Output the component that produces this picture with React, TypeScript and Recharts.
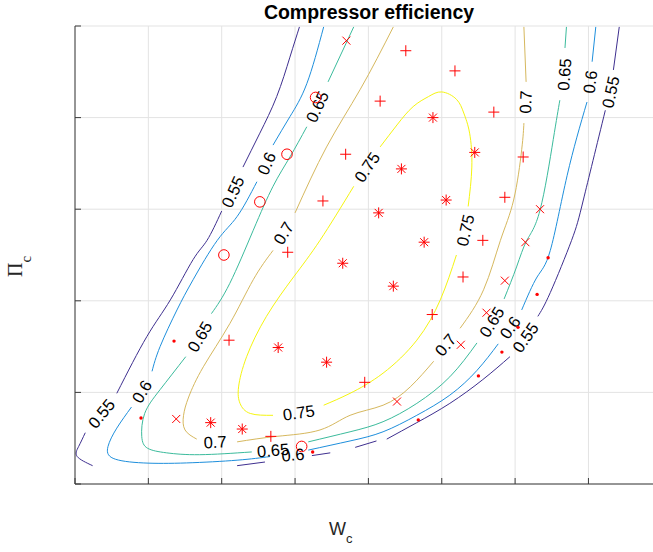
import { CartesianGrid, ComposedChart, Line, Scatter, XAxis, YAxis } from "recharts";

type Pt = [number, number];

// plot frame
const WIDTH = 653;
const HEIGHT = 552;
const MARGIN = { top: 26, right: 0, bottom: 68, left: 75 };

const X_MAX = 7.88;
const Y_MAX = 5;
const X_TICKS = [0, 1, 2, 3, 4, 5, 6, 7];
const Y_TICKS = [0, 1, 2, 3, 4, 5];

const AXIS_COLOR = "#3a3a3a";
const GRID_COLOR = "#e3e3e3";
const MARK_COLOR = "#ff0000";
const SANS = "'Liberation Sans', Arial, Helvetica, sans-serif";
const SERIF = "'Liberation Serif', 'Times New Roman', serif";

const LEVELS = [0.55, 0.6, 0.65, 0.7, 0.75];
const LEVEL_COLORS = ["#3e2f8f", "#1e8fdc", "#3bbb9c", "#d6b85e", "#f5f510"];

// efficiency iso-lines, broken where the inline labels sit
const eff055: Pt[][] = [
  [[3.06, 4.99], [2.93, 4.66], [2.75, 4.23], [2.52, 3.83], [2.29, 3.46]],
  [[2.0, 2.98], [1.8, 2.66], [1.61, 2.45], [1.3, 2.01], [0.98, 1.61], [0.57, 0.99]],
  [[0.14, 0.56], [0.05, 0.41], [0.03, 0.3], [0.24, 0.2]],
  [[2.21, 0.2], [2.59, 0.24]],
  [[3.23, 0.31], [3.48, 0.34]],
  [[3.82, 0.4], [4.11, 0.47]],
  [[4.25, 0.49], [4.66, 0.67], [5.11, 0.88], [5.56, 1.14], [5.93, 1.39]],
  [[6.31, 1.83], [6.48, 2.09], [6.77, 2.66], [6.93, 3.1], [7.23, 4.08]],
  [[7.34, 4.52], [7.42, 4.99]],
];

const eff060: Pt[][] = [
  [[3.39, 4.99], [3.16, 4.37], [2.93, 4.01], [2.7, 3.7]],
  [[2.48, 3.3], [2.21, 2.92], [1.94, 2.66], [1.61, 2.23], [1.39, 1.9], [1.16, 1.5], [1.05, 1.23]],
  [[0.77, 0.84], [0.57, 0.61], [0.45, 0.41], [0.52, 0.28], [0.93, 0.23], [1.52, 0.23], [2.21, 0.26], [2.66, 0.3]],
  [[3.18, 0.37], [3.75, 0.47], [4.2, 0.57], [4.66, 0.75], [5.11, 0.97], [5.48, 1.24], [5.77, 1.53]],
  [[6.09, 1.9], [6.3, 2.26], [6.48, 2.55], [6.71, 3.37], [6.98, 4.17]],
  [[7.05, 4.61], [7.1, 4.99]],
];

const eff065: Pt[][] = [
  [[3.8, 4.99], [3.45, 4.39]],
  [[3.16, 3.9], [2.93, 3.57], [2.7, 3.25], [2.43, 2.77], [2.11, 2.19], [1.86, 1.86]],
  [[1.51, 1.39], [1.16, 1.03], [0.95, 0.77], [0.91, 0.52], [0.99, 0.39], [1.25, 0.34], [1.7, 0.32], [2.41, 0.35]],
  [[3.18, 0.46], [3.75, 0.57], [4.2, 0.68], [4.66, 0.88], [5.11, 1.17], [5.48, 1.54]],
  [[5.85, 2.02], [6.02, 2.37], [6.16, 2.66], [6.34, 2.99], [6.52, 3.76], [6.61, 4.19]],
  [[6.68, 4.76], [6.7, 4.99]],
];

const eff070: Pt[][] = [
  [[4.34, 4.99], [3.89, 4.31], [3.43, 3.68], [3.0, 2.96]],
  [[2.7, 2.55], [2.43, 2.23], [2.11, 1.75], [1.75, 1.28], [1.55, 0.95], [1.48, 0.75], [1.5, 0.59], [1.66, 0.49]],
  [[2.21, 0.46], [2.75, 0.52], [3.34, 0.59], [3.75, 0.75], [4.2, 0.86], [4.57, 1.06], [4.89, 1.34]],
  [[5.25, 1.7], [5.57, 2.12], [5.8, 2.66], [5.98, 3.1], [6.09, 3.65], [6.12, 3.94]],
  [[6.15, 4.39], [6.12, 4.99]],
];

const eff075: Pt[][] = [
  [[4.16, 3.68], [4.39, 3.92], [4.61, 4.12], [4.82, 4.23], [5.0, 4.28], [5.2, 4.2], [5.3, 4.05], [5.38, 3.83], [5.41, 3.46], [5.36, 3.03]],
  [[5.2, 2.5], [4.98, 2.01], [4.66, 1.57], [4.2, 1.21], [3.75, 0.99], [3.39, 0.86]],
  [[2.7, 0.75], [2.39, 0.77], [2.25, 0.88], [2.23, 1.06], [2.34, 1.39], [2.61, 1.83], [2.98, 2.26], [3.34, 2.66], [3.8, 3.25]],
];

const CONTOURS = [eff055, eff060, eff065, eff070, eff075];

// inline level labels: level, position, tilt along the line (deg)
const levelLabels: [number, number, number, number][] = [
  [0.55, 2.15, 3.19, -65], [0.55, 0.36, 0.77, -51], [0.55, 6.14, 1.6, -55], [0.55, 7.3, 4.28, -78],
  [0.6, 2.61, 3.5, -66], [0.6, 0.91, 1.01, -59], [0.6, 2.97, 0.32, -5], [0.6, 5.93, 1.71, -55], [0.6, 7.02, 4.39, -83],
  [0.65, 3.3, 4.12, -65], [0.65, 1.7, 1.61, -59], [0.65, 2.7, 0.37, -5], [0.65, 5.68, 1.77, -58], [0.65, 6.67, 4.47, -86],
  [0.7, 2.84, 2.74, -59], [0.7, 1.91, 0.46, -3], [0.7, 5.05, 1.52, -51], [0.7, 6.14, 4.17, -88],
  [0.75, 5.32, 2.77, -77], [0.75, 3.05, 0.78, -8], [0.75, 3.98, 3.46, -56],
];

// measured operating points, grouped by marker
const circlePts: Pt[] = [[3.28, 4.22], [2.89, 3.6], [2.52, 3.08], [2.03, 2.5], [3.09, 0.41]];
const crossPts: Pt[] = [
  [3.7, 4.84], [6.34, 3.0], [6.14, 2.64], [5.86, 2.22], [5.61, 1.87], [5.26, 1.52], [4.39, 0.9], [1.38, 0.71],
];
const plusPts: Pt[] = [
  [4.51, 4.73], [5.18, 4.51], [4.16, 4.18], [5.71, 4.06], [6.11, 3.57], [5.86, 3.13], [5.56, 2.66],
  [3.69, 3.6], [3.38, 3.09], [2.9, 2.53], [2.1, 1.57], [2.67, 0.52], [5.29, 2.26], [4.87, 1.85], [3.95, 1.11],
];
const starPts: Pt[] = [
  [4.88, 4.0], [5.45, 3.62], [4.45, 3.44], [5.06, 3.1], [4.14, 2.96], [4.76, 2.64],
  [4.34, 2.16], [3.65, 2.41], [2.77, 1.49], [3.43, 1.33], [1.85, 0.67], [2.28, 0.6],
];
const dotPts: Pt[] = [
  [1.35, 1.56], [0.9, 0.72], [3.24, 0.35], [6.45, 2.47], [6.3, 2.07], [6.04, 1.71], [5.82, 1.44], [5.5, 1.18], [4.68, 0.7],
];

const toRows = (pts: Pt[]) => pts.map(([x, y]) => ({ x, y }));
const noLabel = () => "";

const plusShape = ({ cx, cy }: any) => (
  <path d={`M${cx - 5.5},${cy}H${cx + 5.5}M${cx},${cy - 5.5}V${cy + 5.5}`} stroke={MARK_COLOR} fill="none" />
);
const crossShape = ({ cx, cy }: any) => (
  <path d={`M${cx - 4},${cy - 4}L${cx + 4},${cy + 4}M${cx - 4},${cy + 4}L${cx + 4},${cy - 4}`} stroke={MARK_COLOR} fill="none" />
);
const starShape = ({ cx, cy }: any) => (
  <path
    d={`M${cx - 5.5},${cy}H${cx + 5.5}M${cx},${cy - 5.5}V${cy + 5.5}M${cx - 4},${cy - 4}L${cx + 4},${cy + 4}M${cx - 4},${cy + 4}L${cx + 4},${cy - 4}`}
    stroke={MARK_COLOR}
    fill="none"
  />
);
const circleShape = ({ cx, cy }: any) => <circle cx={cx} cy={cy} r={5.3} stroke={MARK_COLOR} fill="none" />;
const dotShape = ({ cx, cy }: any) => <circle cx={cx} cy={cy} r={1.7} fill={MARK_COLOR} />;

const labelShape = ({ cx, cy, payload }: any) => (
  <text
    x={cx}
    y={cy}
    transform={`rotate(${payload.tilt} ${cx} ${cy})`}
    textAnchor="middle"
    dominantBaseline="central"
    fontFamily={SANS}
    fontSize={16.5}
    fill="#000"
  >
    {String(payload.level)}
  </text>
);

export default function App() {
  const labelRows = levelLabels.map(([level, x, y, tilt]) => ({ level, x, y, tilt }));

  return (
    <div style={{ position: "absolute", left: 0, top: 0, width: WIDTH, height: HEIGHT, background: "#fff" }}>
      <ComposedChart width={WIDTH} height={HEIGHT} margin={MARGIN}>
        <CartesianGrid stroke={GRID_COLOR} horizontalValues={Y_TICKS} verticalValues={X_TICKS} />
        <XAxis
          type="number"
          dataKey="x"
          domain={[0, X_MAX]}
          ticks={X_TICKS}
          interval={0}
          allowDataOverflow
          tickFormatter={noLabel}
          mirror
          tickSize={6}
          axisLine={{ stroke: AXIS_COLOR }}
          tickLine={{ stroke: AXIS_COLOR }}
        />
        <YAxis
          type="number"
          dataKey="y"
          domain={[0, Y_MAX]}
          ticks={Y_TICKS}
          interval={0}
          allowDataOverflow
          tickFormatter={noLabel}
          mirror
          tickSize={6}
          axisLine={{ stroke: AXIS_COLOR }}
          tickLine={{ stroke: AXIS_COLOR }}
        />
        {CONTOURS.map((segments, li) =>
          segments.map((seg, si) => (
            <Line
              key={`c${LEVELS[li]}-${si}`}
              data={toRows(seg)}
              dataKey="y"
              type="natural"
              stroke={LEVEL_COLORS[li]}
              strokeWidth={1}
              dot={false}
              activeDot={false}
              legendType="none"
              isAnimationActive={false}
            />
          ))
        )}
        <Scatter data={labelRows} dataKey="y" shape={labelShape} isAnimationActive={false} />
        <Scatter data={toRows(plusPts)} dataKey="y" shape={plusShape} isAnimationActive={false} />
        <Scatter data={toRows(crossPts)} dataKey="y" shape={crossShape} isAnimationActive={false} />
        <Scatter data={toRows(starPts)} dataKey="y" shape={starShape} isAnimationActive={false} />
        <Scatter data={toRows(circlePts)} dataKey="y" shape={circleShape} isAnimationActive={false} />
        <Scatter data={toRows(dotPts)} dataKey="y" shape={dotShape} isAnimationActive={false} />
      </ComposedChart>
      <svg
        width={WIDTH}
        height={HEIGHT}
        style={{ position: "absolute", left: 0, top: 0, pointerEvents: "none" }}
      >
        <text x={369} y={18.5} textAnchor="middle" fontFamily={SANS} fontWeight="bold" fontSize={19.5} fill="#000">
          Compressor efficiency
        </text>
        <text x={329} y={535} fontFamily={SANS} fontSize={18} fill="#262626">
          W<tspan fontSize={13} dy={8}>c</tspan>
        </text>
        <text x={22} y={277} transform="rotate(-90 22 277)" fontFamily={SERIF} fontSize={20} fill="#262626">
          Π<tspan fontSize={15} dy={9}>c</tspan>
        </text>
      </svg>
    </div>
  );
}
